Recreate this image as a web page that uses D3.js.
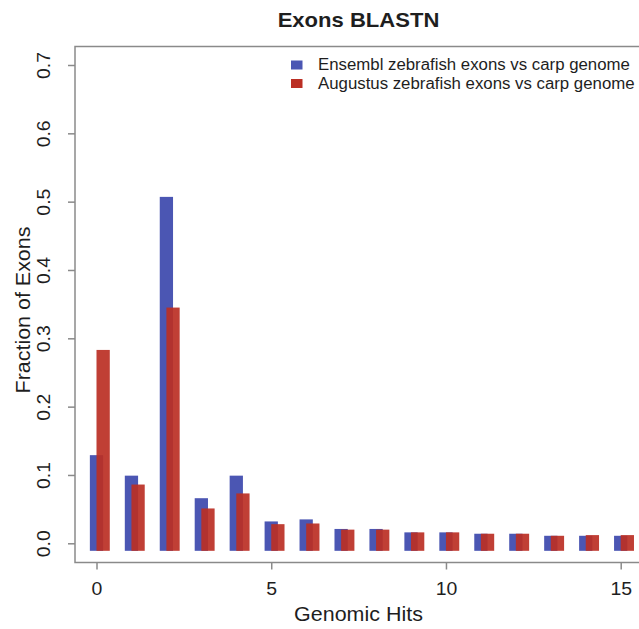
<!DOCTYPE html>
<html>
<head>
<meta charset="utf-8">
<script src="https://cdn.jsdelivr.net/npm/d3@7"></script>
<style>
  body { margin: 0; background: #fff; }
  text { font-family: "Liberation Sans", Arial, sans-serif; fill: #1e1e1e; }
</style>
</head>
<body>
<div id="chart"></div>
<script>
'use strict';

// genomic hits 0..15
const hits = d3.range(0, 16);
const ensembl = [0.129, 0.099, 0.507, 0.066, 0.099, 0.032, 0.035, 0.021, 0.021,
  0.016, 0.016, 0.014, 0.014, 0.011, 0.011, 0.011];
const augustus = [0.283, 0.086, 0.345, 0.051, 0.073, 0.028, 0.029, 0.020, 0.020,
  0.016, 0.016, 0.014, 0.014, 0.011, 0.012, 0.012];
const seriesNames = [
  'Ensembl zebrafish exons vs carp genome',
  'Augustus zebrafish exons vs carp genome',
];
const xTicks = [0, 5, 10, 15];
const yTicks = [0, 0.1, 0.2, 0.3, 0.4, 0.5, 0.6, 0.7];

const blue = '#4b56b3';
const red = '#bb2f24';

const width = 639;
const height = 629;
const box = { left: 75, top: 46.5, bottom: 562.5, right: 660 };

// the original's lettering is a touch wider than Liberation Sans
function stretch(sel, k) {
  sel.each(function() {
    const len = this.getComputedTextLength();
    d3.select(this)
      .attr('textLength', len * k)
      .attr('lengthAdjust', 'spacingAndGlyphs');
  });
}

const svg = d3.select('#chart').append('svg')
  .attr('width', width)
  .attr('height', height);

const x = d3.scaleLinear().domain([0, 15]).range([96.5, 620.7]);
const y = d3.scaleLinear().domain([0, 0.7]).range([543.3, 65]);

const barW = 0.38;
const redShift = 0.19;
const base = -0.011; // bars in the original sit a little under the zero tick

const bars = svg.append('g');

bars.selectAll('rect.ens')
  .data(hits)
  .enter().append('rect')
  .attr('class', 'ens')
  .attr('x', d => x(d - barW / 2))
  .attr('width', x(barW) - x(0))
  .attr('y', d => y(ensembl[d]))
  .attr('height', d => y(base) - y(ensembl[d]))
  .attr('fill', blue);

bars.selectAll('rect.aug')
  .data(hits)
  .enter().append('rect')
  .attr('class', 'aug')
  .attr('x', d => x(d - barW / 2 + redShift))
  .attr('width', x(barW) - x(0))
  .attr('y', d => y(augustus[d]))
  .attr('height', d => y(base) - y(augustus[d]))
  .attr('fill', red)
  .attr('fill-opacity', 0.92);

// plot box (right side runs past the edge)
svg.append('rect')
  .attr('x', box.left)
  .attr('y', box.top)
  .attr('width', box.right - box.left)
  .attr('height', box.bottom - box.top)
  .attr('fill', 'none')
  .attr('stroke', '#8a8a8a')
  .attr('stroke-width', 1.5);

// y axis
const yAxis = d3.axisLeft(y)
  .tickValues(yTicks)
  .tickFormat(d3.format('.1f'))
  .tickSize(7);

const gy = svg.append('g')
  .attr('transform', `translate(${box.left},0)`)
  .call(yAxis);
gy.select('.domain').remove();
gy.selectAll('line').attr('stroke', '#8a8a8a').attr('stroke-width', 1.5);
gy.selectAll('text')
  .attr('font-size', 18)
  .attr('fill', '#1e1e1e')
  .attr('x', 0).attr('y', 0).attr('dy', 0)
  .attr('text-anchor', 'middle')
  .attr('dominant-baseline', 'central')
  .attr('transform', 'translate(-31,0) rotate(-90)');
stretch(gy.selectAll('text'), 1.08);

// x axis
const xAxis = d3.axisBottom(x)
  .tickValues(xTicks)
  .tickSize(7)
  .tickPadding(13);

const gx = svg.append('g')
  .attr('transform', `translate(0,${box.bottom})`)
  .call(xAxis);
gx.select('.domain').remove();
gx.selectAll('line').attr('stroke', '#8a8a8a').attr('stroke-width', 1.5);
gx.selectAll('text').attr('font-size', 18).attr('fill', '#1e1e1e');
stretch(gx.selectAll('text'), 1.08);

// titles
svg.append('text')
  .attr('x', 358.5).attr('y', 27)
  .attr('text-anchor', 'middle')
  .attr('font-size', 21)
  .attr('font-weight', 'bold')
  .text('Exons BLASTN')
  .call(stretch, 1.05);

svg.append('text')
  .attr('x', 358.5).attr('y', 621)
  .attr('text-anchor', 'middle')
  .attr('font-size', 19.5)
  .text('Genomic Hits')
  .call(stretch, 1.1);

svg.append('text')
  .attr('transform', 'translate(30,310) rotate(-90)')
  .attr('text-anchor', 'middle')
  .attr('font-size', 19.5)
  .text('Fraction of Exons')
  .call(stretch, 1.1);

// legend
const legend = svg.append('g').attr('transform', 'translate(291,70)');
const legendRows = legend.selectAll('g')
  .data(seriesNames)
  .enter().append('g')
  .attr('transform', (d, i) => `translate(0,${i * 18.5})`);
legendRows.append('rect')
  .attr('y', -9.5)
  .attr('width', 11.5).attr('height', 9)
  .attr('fill', (d, i) => (i === 0 ? blue : red));
legendRows.append('text')
  .attr('x', 27).attr('y', 0)
  .attr('font-size', 16)
  .text(d => d)
  .call(stretch, 1.05);
</script>
</body>
</html>
